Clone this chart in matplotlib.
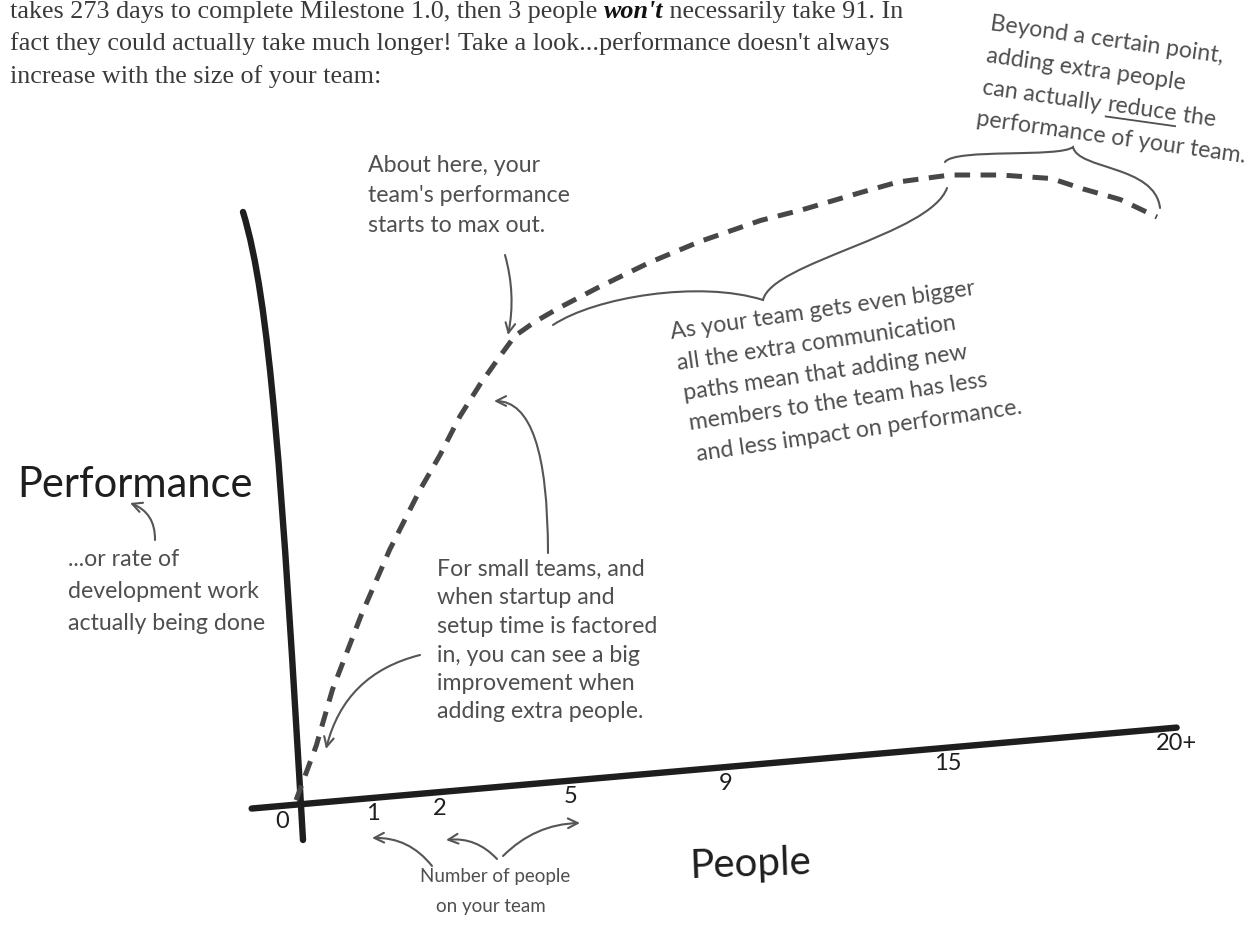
import numpy as np
import matplotlib
matplotlib.use("Agg")
import matplotlib.pyplot as plt
import matplotlib.transforms as mtransforms
from matplotlib.path import Path
from matplotlib.patches import PathPatch

# ---------------- data ----------------
people = [0.05, 0.3, 0.5, 0.85, 1.25, 1.7, 2.0, 2.45, 2.9, 3.35, 3.7, 4.15, 4.7,
          5.7, 7.0, 8.3, 9.9, 11.0, 12.6, 13.6, 15.0, 16.1, 17.2, 17.9, 18.7, 19.5]
performance = [0.7, 8.5, 16.5, 27, 36.5, 45, 50, 55.5, 60, 64, 67, 69, 71,
               74, 77.5, 80.5, 83.5, 85, 87.5, 89, 90, 90, 89.5, 88, 86.5, 84]
tick_people = [0, 1, 2, 5, 9, 15, 20]
tick_labels = ["0", "1", "2", "5", "9", "15", "20+"]

# ---------------- layout ----------------
W, H = 1253, 931
tick_px = [292, 373, 440, 572, 727, 950, 1180]   # hand-drawn spacing of the people axis
origin_y_px = 805
top_y_px = 105
axis_tilt_deg = 5.0

INK = "#1e1e1e"
GREY = "#4f4f4f"
HAND = ["Lato", "DejaVu Sans"]
SERIF = ["Liberation Serif", "DejaVu Serif"]

fig = plt.figure(figsize=(W / 100, H / 100), dpi=100)
fig.patch.set_facecolor("white")
renderer = fig.canvas.get_renderer()

# overlay in pixel coordinates for the notes
ax_bg = fig.add_axes([0, 0, 1, 1])
ax_bg.set_xlim(0, W)
ax_bg.set_ylim(H, 0)
ax_bg.axis("off")

# chart axes
ax = fig.add_axes([tick_px[0] / W, (H - origin_y_px) / H,
                   (tick_px[-1] - tick_px[0]) / W, (origin_y_px - top_y_px) / H])
ax.patch.set_alpha(0)
ax.axis("off")

tp = np.array(tick_people, float)
tx = np.array(tick_px, float)


def fwd(x):
    x = np.asarray(x, float)
    y = np.interp(x, tp, tx)
    s0 = (tx[1] - tx[0]) / (tp[1] - tp[0])
    s1 = (tx[-1] - tx[-2]) / (tp[-1] - tp[-2])
    y = np.where(x < tp[0], tx[0] + (x - tp[0]) * s0, y)
    y = np.where(x > tp[-1], tx[-1] + (x - tp[-1]) * s1, y)
    return y


def inv(y):
    y = np.asarray(y, float)
    x = np.interp(y, tx, tp)
    s0 = (tp[1] - tp[0]) / (tx[1] - tx[0])
    s1 = (tp[-1] - tp[-2]) / (tx[-1] - tx[-2])
    x = np.where(y < tx[0], tp[0] + (y - tx[0]) * s0, x)
    x = np.where(y > tx[-1], tp[-1] + (y - tx[-1]) * s1, x)
    return x


ax.set_xscale("function", functions=(fwd, inv))
ax.set_xlim(tick_people[0], tick_people[-1])
ax.set_ylim(0, 100)

# tilted frame for the hand-drawn people axis
ox, oy = ax.transData.transform((0, 0))
rot = mtransforms.Affine2D().rotate_deg_around(ox, oy, axis_tilt_deg)
trans_rot = ax.transData + rot

# people axis (thick, tilted)
ax.plot([-0.5, tick_people[-1]], [0, 0], transform=trans_rot, color=INK,
        lw=4.6, solid_capstyle="round", clip_on=False, zorder=3)

# performance axis (hand-drawn bow)
yaxis_path = Path([(243, 212), (270, 300), (282, 480), (303, 840)],
                  [Path.MOVETO, Path.CURVE4, Path.CURVE4, Path.CURVE4])
ax_bg.add_patch(PathPatch(yaxis_path, facecolor="none", edgecolor=INK, lw=4.6,
                          capstyle="round", zorder=3))

# dashed performance curve
ax.plot(people, performance, color="#474747", lw=3.6, ls=(0, (3.1, 2.1)),
        dash_capstyle="butt", clip_on=False, zorder=4)

# tick labels along the tilted axis
for p, lab in zip(tick_people, tick_labels):
    ax.annotate(lab, xy=(p, 0), xycoords=trans_rot, xytext=(-2 if p == 0 else 0, -4),
                textcoords="offset points", ha="right" if p == 0 else "center",
                va="top", fontsize=17, color=INK, family=HAND)


# ---------------- text helpers ----------------
def width_of(s, **kw):
    t = ax_bg.text(0, 0, s + "|", **kw)
    w1 = t.get_window_extent(renderer).width
    t.remove()
    t = ax_bg.text(0, 0, "|", **kw)
    w2 = t.get_window_extent(renderer).width
    t.remove()
    return w1 - w2


def text_runs(x, y, runs, angle=0.0, **kw):
    th = np.deg2rad(angle)
    ux, uy = np.cos(th), -np.sin(th)
    off = 0.0
    for s, extra, ul in runs:
        k = {**kw, **extra}
        ax_bg.text(x + ux * off, y + uy * off, s, rotation=angle,
                   rotation_mode="anchor", ha="left", va="baseline", **k)
        w = width_of(s, **k)
        if ul:
            dx, dy = 5 * np.sin(th), 5 * np.cos(th)
            ax_bg.plot([x + ux * off + dx, x + ux * (off + w) + dx],
                       [y + uy * off + dy, y + uy * (off + w) + dy],
                       color=k.get("color", GREY), lw=1.3)
        off += w


def note_lines(x, y, lines, dy, angle=0.0, dx=0.0, **kw):
    for i, s in enumerate(lines):
        ax_bg.text(x + dx * i, y + dy * i, s, rotation=angle, rotation_mode="anchor",
                   ha="left", va="baseline", **kw)


# ---------------- paragraph at top ----------------
para = dict(family=SERIF, fontsize=18.8, color="#3a3a3a")
text_runs(10, 18, [("takes 273 days to complete Milestone 1.0, then 3 people ", {}, False),
                   ("won't", dict(weight="bold", style="italic", color="#111111"), False),
                   (" necessarily take 91. In", {}, False)], **para)
ax_bg.text(10, 50, "fact they could actually take much longer! Take a look...performance doesn't always",
           ha="left", va="baseline", **para)
ax_bg.text(10, 83, "increase with the size of your team:", ha="left", va="baseline", **para)

# ---------------- axis titles ----------------
ax_bg.text(17, 497, "Performance", family=HAND, fontsize=30, color=INK,
           ha="left", va="baseline")
ax_bg.text(690, 878, "People", family=HAND, fontsize=29, color=INK,
           ha="left", va="baseline", rotation=2, rotation_mode="anchor")

note = dict(family=HAND, fontsize=16.7, color=GREY)

note_lines(68, 566, ["...or rate of", "development work", "actually being done"], 32, **note)
note_lines(368, 172, ["About here, your", "team's performance", "starts to max out."], 30, **note)
note_lines(437, 576, ["For small teams, and", "when startup and", "setup time is factored",
                      "in, you can see a big", "improvement when", "adding extra people."], 28.5, **note)
note_lines(671, 339, ["As your team gets even bigger", "all the extra communication",
                      "paths mean that adding new", "members to the team has less",
                      "and less impact on performance."], 30.5, angle=8.3, dx=6.5, **note)
small = {**note, "fontsize": 13.5}
note_lines(420, 882, ["Number of people"], 28, **small)
note_lines(436, 912, ["on your team"], 28, **small)

# top-right note (sloping down)
note_lines(990, 30, ["Beyond a certain point,", "adding extra people"], 32, angle=-8, dx=-4, **note)
text_runs(982, 94, [("can actually ", {}, False), ("reduce", {}, True), (" the", {}, False)],
          angle=-8, **note)
ax_bg.text(976, 125, "performance of your team.", rotation=-8, rotation_mode="anchor",
           ha="left", va="baseline", **note)

# ---------------- arrows and braces ----------------
arrow_kw = dict(arrowstyle="->,head_length=0.7,head_width=0.35", color="#555555", lw=1.5)


def arrow(tail, head, cs):
    ax_bg.annotate("", xy=head, xytext=tail, xycoords="data", textcoords="data",
                   arrowprops=dict(connectionstyle=cs, shrinkA=0, shrinkB=0, **arrow_kw))


arrow((155, 540), (130, 503), "arc3,rad=0.35")
arrow((505, 255), (508, 335), "arc3,rad=-0.12")
arrow((548, 553), (494, 401), "angle3,angleA=90,angleB=0")
arrow((420, 655), (326, 749), "arc3,rad=0.3")
arrow((432, 866), (372, 838), "arc3,rad=0.25")
arrow((497, 859), (446, 840), "arc3,rad=0.25")
arrow((503, 856), (580, 823), "arc3,rad=-0.2")


def brace(pts):
    codes = [Path.MOVETO] + [Path.CURVE4] * (len(pts) - 1)
    ax_bg.add_patch(PathPatch(Path(pts, codes), facecolor="none",
                              edgecolor="#555555", lw=1.5, capstyle="round"))


brace([(553, 325), (595, 297), (700, 280), (763, 300),
       (772, 262), (930, 235), (947, 188)])
brace([(945, 162), (955, 148), (1060, 158), (1073, 147),
       (1078, 170), (1155, 165), (1160, 208)])

fig.savefig("out.png", dpi=100, facecolor="white")
